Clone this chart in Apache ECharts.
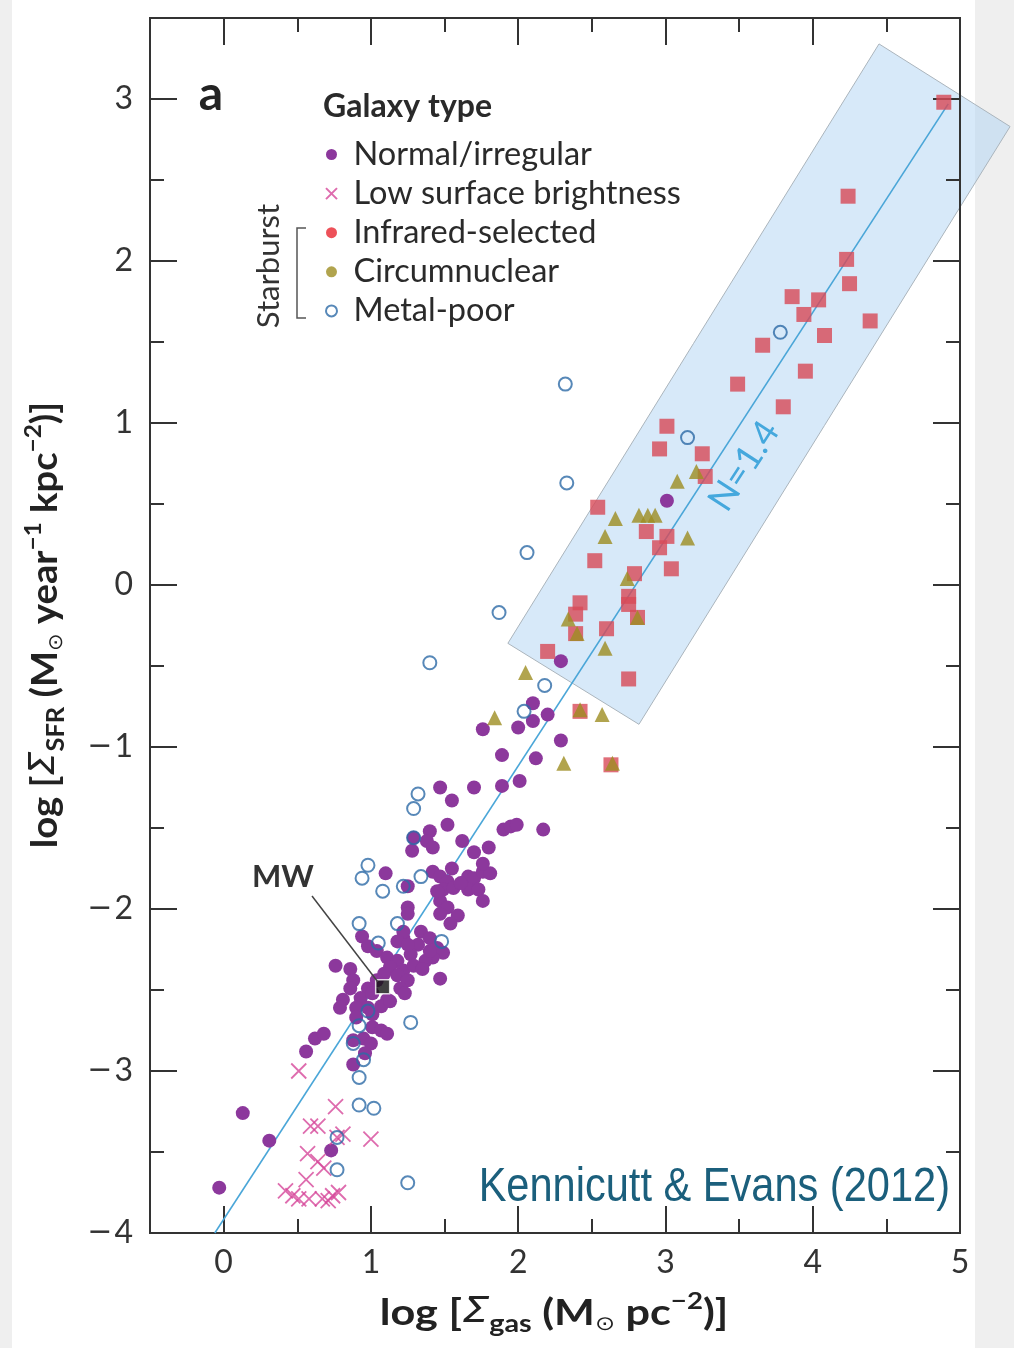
<!DOCTYPE html>
<html><head><meta charset="utf-8">
<script src="https://cdn.jsdelivr.net/npm/echarts@6/dist/echarts.min.js"></script>
<style>
html,body{margin:0;padding:0;background:#efefef;}
#bg{position:absolute;left:12px;top:0;width:963px;height:1348px;background:#fff;}
#chart{position:absolute;left:0;top:0;width:1014px;height:1348px;}
</style></head><body>
<div id="bg"></div><div id="chart"></div>
<script>
// ---- data (log Σgas, log ΣSFR) ----
const xMajor = [0, 1, 2, 3, 4, 5];
const xMinor = [0.5, 1.5, 2.5, 3.5, 4.5];
const yMajor = [-4, -3, -2, -1, 0, 1, 2, 3];
const yMinor = [-3.5, -2.5, -1.5, -0.5, 0.5, 1.5, 2.5];

const normalPts = [
 [3.01,0.52],[2.29,-0.47],[2.10,-0.73],[2.20,-0.80],[2.10,-0.84],[2.00,-0.88],[1.76,-0.89],[2.29,-0.96],[1.89,-1.05],[2.12,-1.07],
 [1.47,-1.25],[1.70,-1.25],[1.89,-1.24],[2.01,-1.21],[1.55,-1.33],
 [1.52,-1.48],[1.40,-1.52],[1.29,-1.56],[1.38,-1.58],[1.42,-1.62],[1.28,-1.64],[1.62,-1.58],[1.80,-1.62],[1.70,-1.65],[1.90,-1.51],[1.95,-1.49],[1.99,-1.48],[2.17,-1.51],
 [1.10,-1.78],[1.25,-1.86],[1.42,-1.77],[1.55,-1.75],[1.47,-1.80],[1.52,-1.83],[1.66,-1.80],[1.70,-1.81],[1.76,-1.77],[1.81,-1.78],[1.49,-1.88],[1.56,-1.87],[1.66,-1.88],[1.73,-1.88],[1.76,-1.95],[1.47,-1.95],[1.52,-1.99],[1.47,-2.03],[1.59,-2.04],[1.54,-2.09],[1.25,-1.99],[1.25,-2.03],
 [1.22,-2.18],[1.34,-2.14],[1.32,-2.22],[1.27,-2.28],[1.40,-2.18],[1.45,-2.24],[1.49,-2.27],[1.42,-2.30],[1.37,-2.32],[1.47,-2.43],[1.76,-1.72],[1.61,-1.84],[1.22,-2.14],[1.18,-2.20],[1.25,-2.22],[1.40,-2.26],
 [0.94,-2.17],[0.98,-2.23],[1.04,-2.26],[1.11,-2.30],[1.18,-2.32],[1.13,-2.36],[1.22,-2.38],[1.29,-2.35],[1.35,-2.37],[1.09,-2.40],[0.76,-2.35],[0.86,-2.37],[0.88,-2.44],[0.86,-2.49],[0.98,-2.49],[1.04,-2.44],[1.18,-2.41],[1.25,-2.44],[1.20,-2.49],[1.23,-2.52],
 [0.81,-2.56],[0.93,-2.55],[1.01,-2.52],[1.11,-2.56],[0.79,-2.61],[0.90,-2.61],[0.98,-2.61],[1.07,-2.60],[1.13,-2.57],[0.90,-2.67],[1.01,-2.65],[1.01,-2.73],[1.07,-2.75],[1.11,-2.77],[0.95,-2.80],[1.00,-2.83],[0.88,-2.81],[0.96,-2.89],[0.62,-2.80],[0.68,-2.77],[0.56,-2.88],
 [-0.03,-3.72],[0.13,-3.26],[0.31,-3.43],[0.73,-3.49],[0.88,-2.96],[1.45,-1.89]
];
const lsbPts = [
 [0.51,-3.00],[0.76,-3.22],[1.00,-3.42],[0.59,-3.34],[0.64,-3.34],[0.81,-3.39],[0.77,-3.41],[0.57,-3.51],[0.64,-3.56],[0.68,-3.60],
 [0.56,-3.67],[0.42,-3.74],[0.47,-3.77],[0.51,-3.79],[0.58,-3.79],[0.67,-3.79],[0.74,-3.77],[0.78,-3.75],[0.71,-3.80]
];
const irPts = [
 [4.89,2.98],[4.24,2.40],[4.23,2.01],[4.25,1.86],[3.86,1.78],[4.04,1.76],[3.94,1.67],[4.39,1.63],[4.08,1.54],[3.66,1.48],
 [3.49,1.24],[3.95,1.32],[3.80,1.10],[3.01,0.98],[2.96,0.84],[3.25,0.81],[3.27,0.67],[2.54,0.48],[2.87,0.33],[3.01,0.30],
 [2.96,0.23],[2.52,0.15],[2.79,0.07],[3.04,0.10],[2.75,-0.07],[2.75,-0.12],[2.42,-0.11],[2.39,-0.18],[2.81,-0.20],[2.60,-0.27],
 [2.39,-0.30],[2.20,-0.41],[2.75,-0.58],[2.42,-0.78],[2.63,-1.11]
];
const circumPts = [
 [3.21,0.70],[3.08,0.64],[2.66,0.41],[2.82,0.43],[2.88,0.43],[2.93,0.43],[2.59,0.30],[3.15,0.29],[2.74,0.04],[2.34,-0.21],
 [2.40,-0.30],[2.81,-0.20],[2.59,-0.39],[2.05,-0.54],[1.84,-0.82],[2.42,-0.77],[2.57,-0.80],[2.31,-1.10],[2.64,-1.10]
];
const metalPts = [
 [2.32,1.24],[2.33,0.63],[2.06,0.20],[1.87,-0.17],[1.40,-0.48],[2.18,-0.62],[2.04,-0.78],[3.15,0.91],[3.78,1.56],
 [1.32,-1.29],[1.29,-1.38],[1.29,-1.56],[0.98,-1.73],[0.94,-1.81],[1.08,-1.89],[1.22,-1.86],[1.34,-1.80],[0.92,-2.09],[1.18,-2.09],[1.05,-2.21],[1.48,-2.20],
 [0.98,-2.63],[1.27,-2.70],[0.92,-2.72],[0.88,-2.83],[0.95,-2.93],[0.92,-3.04],[0.92,-3.21],[1.02,-3.23],[0.77,-3.41],[0.77,-3.61],[1.25,-3.69]
];
const mwPt = [[1.08,-2.48]];
const fitLine = [[-0.06,-4.0],[4.92,2.97]];          // N = 1.4 relation
const bandCorners = [[1.93,-0.36],[4.45,3.34],[5.34,2.83],[2.82,-0.86]];

// ---- styling ----
const F = 'Lato, "Open Sans", sans-serif';
const AX = '#333';
const crossPath = 'path://M0,0L10,10M10,0L0,10';
function intLabel(v) {
  const n = (v !== null && typeof v === 'object') ? Number(v.value) : Number(v);
  if (Math.abs(n - Math.round(n)) > 1e-6) return '';
  return (n < 0 ? '{m|\u2212}' : '') + Math.abs(Math.round(n));
}
const labelRich = {m:{fontSize:30, fontFamily:'"DejaVu Sans", sans-serif', color:'#333', padding:[0,2,0,0]}};

function xAx(pos, vals, len, labels) {
  return {type:'value', min:-0.5, max:5, interval:0.5, position:pos,
    axisLine:{show:true, onZero:false, lineStyle:{color:AX, width:2}},
    axisTick:{show:true, inside:true, length:len, customValues:vals, lineStyle:{color:AX, width:2}},
    axisLabel:{show:labels, margin:14, fontSize:32, fontFamily:F, color:'#333', formatter:intLabel, rich:labelRich},
    splitLine:{show:false}};
}
function yAx(pos, vals, len, labels) {
  return {type:'value', min:-4, max:3.5, interval:0.5, position:pos,
    axisLine:{show:true, onZero:false, lineStyle:{color:AX, width:2}},
    axisTick:{show:true, inside:true, length:len, customValues:vals, lineStyle:{color:AX, width:2}},
    axisLabel:{show:labels, margin:17, fontSize:32, fontFamily:F, color:'#333', formatter:intLabel, rich:labelRich},
    splitLine:{show:false}};
}

const chart = echarts.init(document.getElementById('chart'), null, {renderer:'canvas'});
const rich = {
  b:{fontSize:36, fontWeight:'bold', fontFamily:F, fill:'#222'},
  i:{fontSize:36, fontStyle:'italic', fontFamily:'"DejaVu Sans", sans-serif', fill:'#222'},
  sub:{fontSize:24, fontWeight:'bold', fontFamily:F, fill:'#222', padding:[22,0,0,0]},
  sup:{fontSize:23, fontWeight:'bold', fontFamily:F, fill:'#222', padding:[0,0,22,0]},
  o:{fontSize:20, fontFamily:'"DejaVu Sans", sans-serif', fill:'#222', padding:[24,0,0,0]}
};

chart.setOption({
  animation:false,
  backgroundColor:'transparent',
  grid:{left:150, right:54, top:18, bottom:115, containLabel:false},
  xAxis:[xAx('bottom', xMajor, 27, true), xAx('bottom', xMinor, 14, false), xAx('top', xMajor, 27, false), xAx('top', xMinor, 14, false)],
  yAxis:[yAx('left', yMajor, 27, true), yAx('left', yMinor, 14, false), yAx('right', yMajor, 27, false), yAx('right', yMinor, 14, false)],
  legend:{
    orient:'vertical', left:320, top:133, itemWidth:34, itemHeight:11, itemGap:6.1,
    textStyle:{fontSize:32.5, fontFamily:F, color:'#2a2a2a', lineHeight:30},
    data:[
      {name:'Normal/irregular', icon:'circle'},
      {name:'Low surface brightness', icon:crossPath},
      {name:'Infrared-selected', icon:'circle', itemStyle:{color:'#e8262f'}},
      {name:'Circumnuclear', icon:'circle'},
      {name:'Metal-poor', icon:'circle'}
    ]
  },
  series:[
    {type:'custom', name:'band', data:bandCorners, encode:{x:0, y:1}, clip:false, silent:true, z:-1,
     renderItem:(params, api) => {
       if (params.dataIndex !== 0) return null;
       return {type:'polygon', shape:{points:bandCorners.map(p => api.coord(p))},
               style:{fill:'rgba(175,212,244,0.5)', stroke:'#aab4bc', lineWidth:1}};
     }},
    {type:'line', name:'fit', data:fitLine, showSymbol:false, silent:true, z:2,
     lineStyle:{color:'#4aa6d8', width:1.6}},
    {type:'scatter', name:'Normal/irregular', data:normalPts, symbol:'circle', symbolSize:14, z:3,
     itemStyle:{color:'#8c389c', opacity:1}},
    {type:'scatter', name:'Low surface brightness', data:lsbPts, symbol:crossPath, symbolSize:15, z:4,
     itemStyle:{color:'rgba(0,0,0,0)', borderColor:'#d6479a', borderWidth:1.8}},
    {type:'scatter', name:'Metal-poor', data:metalPts, symbol:'circle', symbolSize:13, z:5,
     itemStyle:{color:'rgba(255,255,255,0)', borderColor:'#2d6aa6', borderWidth:2}},
    {type:'scatter', name:'Infrared-selected', data:irPts, symbol:'rect', symbolSize:15, z:6,
     itemStyle:{color:'#d84a57'}},
    {type:'scatter', name:'Circumnuclear', data:circumPts, symbol:'triangle', symbolSize:15, z:7,
     itemStyle:{color:'#9e8d22'}},
    {type:'scatter', name:'MW', data:mwPt, symbol:'rect', symbolSize:14, z:8,
     itemStyle:{color:'#111', borderColor:'#fff', borderWidth:1.5}}
  ]
});

const mwPix = chart.convertToPixel({xAxisIndex:0, yAxisIndex:0}, mwPt[0]);

chart.setOption({
  graphic:[
    {type:'text', x:211, y:95, style:{text:'a', font:'bold 48px ' + F, fill:'#222', align:'center', verticalAlign:'middle'}},
    {type:'text', x:323, y:107, style:{text:'Galaxy type', font:'bold 32px ' + F, fill:'#2a2a2a', align:'left', verticalAlign:'middle'}},
    {type:'text', x:269, y:266, rotation:Math.PI/2, style:{text:'Starburst', font:'31px ' + F, fill:'#333', align:'center', verticalAlign:'middle'}},
    {type:'polyline', shape:{points:[[306,228],[297,228],[297,318],[306,318]]}, style:{stroke:'#555', lineWidth:1.5, fill:null}},
    {type:'text', x:744, y:466, rotation:57*Math.PI/180, style:{text:'N=1.4', font:'36px ' + F, fill:'#45a8dd', align:'center', verticalAlign:'middle'}},
    {type:'text', x:950, y:1188, scaleX:0.866, style:{text:'Kennicutt & Evans (2012)', font:'48px "Liberation Sans", sans-serif', fill:'#1b5f7c', align:'right', verticalAlign:'middle'}},
    {type:'text', x:283, y:877, style:{text:'MW', font:'bold 31px ' + F, fill:'#333', align:'center', verticalAlign:'middle'}},
    {type:'line', shape:{x1:312, y1:896, x2:mwPix[0]-5, y2:mwPix[1]-5}, style:{stroke:'#444', lineWidth:1.5}, z:10},
    {type:'text', x:554, y:1313, scaleX:1.2, style:{text:'{b|log [}{i|Σ}{sub|gas}{b| (M}{o|⊙}{b| pc}{sup|−2}{b|)]}', rich:rich, align:'center', verticalAlign:'middle'}},
    {type:'text', x:45, y:625, rotation:Math.PI/2, scaleX:1.06, style:{text:'{b|log [}{i|Σ}{sub|SFR}{b| (M}{o|⊙}{b| year}{sup|−1}{b| kpc}{sup|−2}{b|)]}', rich:rich, align:'center', verticalAlign:'middle'}}
  ]
});
</script></body></html>
